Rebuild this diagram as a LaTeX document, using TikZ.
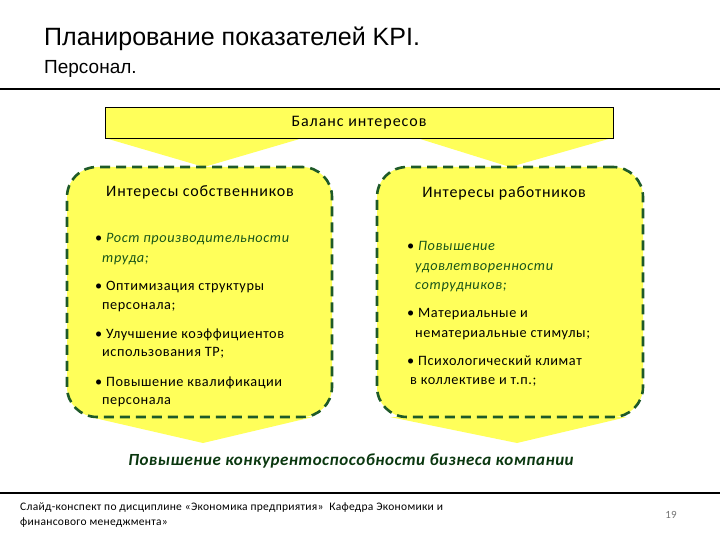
\documentclass[tikz,border=0pt]{standalone}
\usepackage{fontspec}
\setmainfont{Carlito}
\newfontfamily\arialf{Liberation Sans}
\newfontfamily\itemf[LetterSpace=4]{Carlito}
\newfontfamily\headf[LetterSpace=5]{Carlito}
\newfontfamily\balf[LetterSpace=6]{Carlito}
\newfontfamily\resf[LetterSpace=3]{Carlito}
\newfontfamily\footf[LetterSpace=2.5]{Carlito}
\definecolor{yel}{RGB}{255,255,90}
\definecolor{dgreen}{RGB}{30,90,40}
\definecolor{tgreen}{RGB}{25,85,25}
\definecolor{bgreen}{RGB}{10,55,15}
\begin{document}
\begin{tikzpicture}[x=1pt,y=-1pt,
  rule/.style={line width=2.6pt,black},
  interest/.style={draw=dgreen,dashed,dash pattern=on 10pt off 6pt,line width=2.6pt,fill=yel,rounded corners=30pt,inner sep=0pt},
  wedge/.style={fill=yel},
  head/.style={font=\headf\fontsize{16}{18}\selectfont,inner sep=0pt},
  item/.style={anchor=mid west,inner sep=0pt,font=\itemf\fontsize{14.3}{16}\selectfont},
  itemg/.style={anchor=mid west,inner sep=0pt,font=\itemf\fontsize{14.3}{16}\selectfont\itshape,text=tgreen},
  foot/.style={anchor=mid west,inner sep=0pt,font=\footf\fontsize{11.5}{13}\selectfont}]
\useasboundingbox (0,0) rectangle (720,540);
% title
\node[anchor=mid west,inner sep=0pt,font=\arialf\fontsize{25}{29}\selectfont] (title) at (44,43) {Планирование показателей KPI.};
\node[anchor=mid west,inner sep=0pt,font=\arialf\fontsize{19}{22}\selectfont] (sub) at (44,71) {Персонал.};
\draw[rule] (0,89) -- (720,89);
% wedges
\fill[wedge] (105,138) -- (303,138) -- (204,167) -- cycle;
\fill[wedge] (417,138) -- (612,138) -- (510,167) -- cycle;
\fill[wedge] (90,417) -- (313,417) -- (203,443) -- cycle;
\fill[wedge] (390,417) -- (627,417) -- (517,443) -- cycle;
% balance box
\node[draw,line width=0.8pt,fill=yel,minimum width=508pt,minimum height=31pt,inner sep=0pt,font=\balf\fontsize{16}{18}\selectfont] (bal) at (359,122.5) {Баланс интересов};
% interest boxes
\node[interest,minimum width=265pt,minimum height=250pt] (own) at (199.5,292) {};
\node[interest,minimum width=266pt,minimum height=250pt] (wrk) at (510,292) {};
\node[head] (ownh) at (200,192) {Интересы собственников};
\node[head] (wrkh) at (504,193) {Интересы работников};
% owners items
\node[itemg] (o1) at (95,240) {{\upshape\color{black}•} Рост производительности};
\node[itemg] (o1b) at (102,260) {труда;};
\node[item] (o2) at (95,288) {• Оптимизация структуры};
\node[item] (o2b) at (102,307) {персонала;};
\node[item] (o3) at (95,336) {• Улучшение коэффициентов};
\node[item] (o3b) at (102,354) {использования ТР;};
\node[item] (o4) at (95,384) {• Повышение квалификации};
\node[item] (o4b) at (102,402) {персонала};
% workers items
\node[itemg] (w1) at (407,248) {{\upshape\color{black}•} Повышение};
\node[itemg] (w1b) at (415,268) {удовлетворенности};
\node[itemg] (w1c) at (415,287) {сотрудников;};
\node[item] (w2) at (407,315) {• Материальные и};
\node[item] (w2b) at (415,335) {нематериальные стимулы;};
\node[item] (w3) at (407,363) {• Психологический климат};
\node[item] (w3b) at (410,382) {в коллективе и т.п.;};
% result
\node[inner sep=0pt,font=\resf\fontsize{17}{20}\selectfont\bfseries\itshape,text=bgreen] (res) at (351,461) {Повышение конкурентоспособности бизнеса компании};
\draw[rule] (0,493) -- (720,493);
% footer
\node[foot] (f1) at (20,508) {Слайд-конспект по дисциплине «Экономика предприятия»\ \ Кафедра Экономики и};
\node[foot] (f2) at (20,523) {финансового менеджмента»};
\node[inner sep=0pt,font=\fontsize{11}{13}\selectfont,text=black!55] (pg) at (671,515) {19};
\end{tikzpicture}
\end{document}
